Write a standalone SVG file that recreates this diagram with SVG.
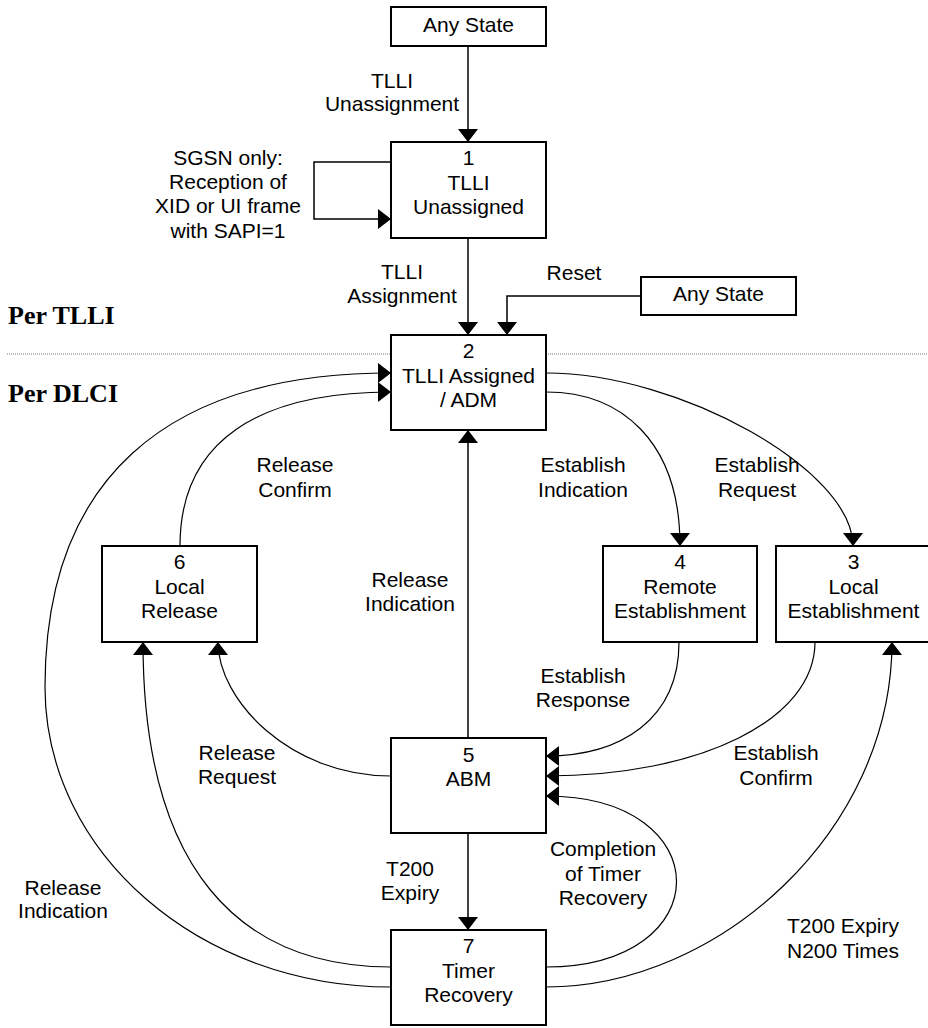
<svg xmlns="http://www.w3.org/2000/svg" width="928" height="1028" viewBox="0 0 928 1028">
<style>
.box{fill:#fff;stroke:#000;stroke-width:2}
.t{font-family:"Liberation Sans",Arial,sans-serif;font-size:21px;fill:#000;text-anchor:middle}
.h{font-family:"Liberation Serif","Times New Roman",serif;font-size:26px;font-weight:bold;fill:#000}
.ln{fill:none;stroke:#000;stroke-width:1.5;marker-end:url(#ah)}
.cv{fill:none;stroke:#000;stroke-width:1.2;marker-end:url(#ah)}
.dot{stroke:#777;stroke-width:1;stroke-dasharray:1 1;fill:none}
</style>
<defs>
<marker id="ah" markerUnits="userSpaceOnUse" markerWidth="13" markerHeight="20" refX="13" refY="10" orient="auto">
<path d="M0,0 L13,10 L0,20 Z" fill="#000"/>
</marker>
</defs>
<rect width="928" height="1028" fill="#fff"/>

<g id="section-labels">
<text class="h" x="8" y="324">Per TLLI</text>
<text class="h" x="8" y="402">Per DLCI</text>
<path class="dot" d="M7,354 H391 M546,354 H928"/>
</g>

<g id="connectors">
<path class="ln" d="M468,46 V142"/>
<path class="ln" d="M391,162 H314 V219 H391"/>
<path class="ln" d="M468,238 V335"/>
<path class="ln" d="M641,296 H507 V335"/>
<path class="ln" d="M468,738 V430"/>
<path class="ln" d="M468,833 V930"/>
<path class="cv" d="M546,373 C680,373 853,470 853,546"/>
<path class="cv" d="M546,392 C620,392 680,440 680,546"/>
<path class="cv" d="M180,546 C180,440 260,392 391,392"/>
<path class="cv" d="M391,987 C200,987 45,853 45,687 C45,483 162,373 391,373"/>
<path class="cv" d="M391,967 C240,967 143,870 143,642"/>
<path class="cv" d="M391,776 C290,776 218,700 218,642"/>
<path class="cv" d="M679,642 C679,720 620,756 546,756"/>
<path class="cv" d="M815,642 C815,720 700,776 546,776"/>
<path class="cv" d="M546,967 C720,967 720,796 546,796"/>
<path class="cv" d="M546,987 C720,987 892,830 892,642"/>
</g>

<g id="edge-labels">
<text class="t" x="392" y="88">TLLI</text>
<text class="t" x="392" y="111">Unassignment</text>
<text class="t" x="228" y="165">SGSN only:</text>
<text class="t" x="228" y="189">Reception of</text>
<text class="t" x="228" y="213">XID or UI frame</text>
<text class="t" x="228" y="238">with SAPI=1</text>
<text class="t" x="402" y="279">TLLI</text>
<text class="t" x="402" y="303">Assignment</text>
<text class="t" x="574" y="280">Reset</text>
<text class="t" x="295" y="472">Release</text>
<text class="t" x="295" y="497">Confirm</text>
<text class="t" x="410" y="587">Release</text>
<text class="t" x="410" y="611">Indication</text>
<text class="t" x="583" y="472">Establish</text>
<text class="t" x="583" y="497">Indication</text>
<text class="t" x="757" y="472">Establish</text>
<text class="t" x="757" y="497">Request</text>
<text class="t" x="583" y="683">Establish</text>
<text class="t" x="583" y="707">Response</text>
<text class="t" x="776" y="760">Establish</text>
<text class="t" x="776" y="785">Confirm</text>
<text class="t" x="237" y="760">Release</text>
<text class="t" x="237" y="784">Request</text>
<text class="t" x="603" y="856">Completion</text>
<text class="t" x="603" y="881">of Timer</text>
<text class="t" x="603" y="905">Recovery</text>
<text class="t" x="410" y="876">T200</text>
<text class="t" x="410" y="900">Expiry</text>
<text class="t" x="843" y="933">T200 Expiry</text>
<text class="t" x="843" y="958">N200 Times</text>
<text class="t" x="63" y="895">Release</text>
<text class="t" x="63" y="918">Indication</text>
</g>

<g id="any-state-top">
<rect class="box" x="391" y="7" width="155" height="39"/>
<text class="t" x="468.5" y="32">Any State</text>
</g>
<g id="any-state-right">
<rect class="box" x="641" y="277" width="155" height="38"/>
<text class="t" x="718.5" y="301">Any State</text>
</g>
<g id="state1">
<rect class="box" x="391" y="142" width="155" height="96"/>
<text class="t" x="468.5" y="165">1</text>
<text class="t" x="468.5" y="190">TLLI</text>
<text class="t" x="468.5" y="214">Unassigned</text>
</g>
<g id="state2">
<rect class="box" x="391" y="335" width="155" height="95"/>
<text class="t" x="468.5" y="358">2</text>
<text class="t" x="468.5" y="383">TLLI Assigned</text>
<text class="t" x="468.5" y="407">/ ADM</text>
</g>
<g id="state6">
<rect class="box" x="102" y="546" width="155" height="96"/>
<text class="t" x="179.5" y="569">6</text>
<text class="t" x="179.5" y="594">Local</text>
<text class="t" x="179.5" y="618">Release</text>
</g>
<g id="state4">
<rect class="box" x="603" y="546" width="154" height="96"/>
<text class="t" x="680" y="569">4</text>
<text class="t" x="680" y="594">Remote</text>
<text class="t" x="680" y="618">Establishment</text>
</g>
<g id="state3">
<rect class="box" x="776" y="546" width="155" height="96"/>
<text class="t" x="853.5" y="569">3</text>
<text class="t" x="853.5" y="594">Local</text>
<text class="t" x="853.5" y="618">Establishment</text>
</g>
<g id="state5">
<rect class="box" x="391" y="738" width="155" height="95"/>
<text class="t" x="468.5" y="762">5</text>
<text class="t" x="468.5" y="786">ABM</text>
</g>
<g id="state7">
<rect class="box" x="391" y="930" width="155" height="95"/>
<text class="t" x="468.5" y="953">7</text>
<text class="t" x="468.5" y="978">Timer</text>
<text class="t" x="468.5" y="1002">Recovery</text>
</g>
</svg>
